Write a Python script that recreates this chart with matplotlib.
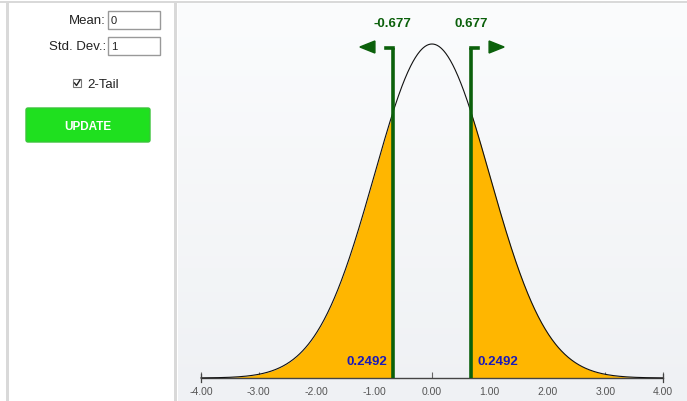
import numpy as np
import matplotlib
matplotlib.use("Agg")
import matplotlib.pyplot as plt
from matplotlib.patches import Rectangle, FancyBboxPatch, Polygon
from matplotlib.colors import LinearSegmentedColormap

plt.rcParams['font.family'] = ['Liberation Sans', 'DejaVu Sans']

# distribution settings and results
mean = 0.0
std_dev = 1.0
crit_values = [-0.677, 0.677]
tail_areas = [0.2492, 0.2492]
tick_values = [-4, -3, -2, -1, 0, 1, 2, 3, 4]
tick_labels = ["-4.00", "-3.00", "-2.00", "-1.00", "0.00", "1.00", "2.00", "3.00", "4.00"]

W, H = 687, 402
fig = plt.figure(figsize=(W / 100, H / 100), dpi=100)
fig.patch.set_facecolor('white')

# ---- control panel drawn in pixel coordinates ----
ui = fig.add_axes([0, 0, 1, 1])
ui.set_xlim(0, W)
ui.set_ylim(H, 0)
ui.axis('off')

border = '#d9d9d9'
ui.add_patch(Rectangle((0, 2), W, 2, color=border, lw=0))
ui.add_patch(Rectangle((6, 2), 2.5, H, color=border, lw=0))
ui.add_patch(Rectangle((174, 2), 2.5, H, color=border, lw=0))

txt = dict(fontsize=9.5, color='#222222', va='center')
ui.text(106, 21, "Mean:", ha='right', **txt)
ui.add_patch(Rectangle((108, 12), 52, 18, fc='white', ec='#999999', lw=1))
ui.text(111, 21.5, f"{mean:g}", ha='left', fontsize=8, color='#222222', va='center')
ui.text(106, 47, "Std. Dev.:", ha='right', **txt)
ui.add_patch(Rectangle((108, 38), 52, 18, fc='white', ec='#999999', lw=1))
ui.text(111, 47.5, f"{std_dev:g}", ha='left', fontsize=8, color='#222222', va='center')

ui.add_patch(Rectangle((73, 80), 8, 8, fc='white', ec='#777777', lw=0.8))
ui.plot([74.5, 76.5, 80], [84, 86.5, 81], color='#222222', lw=1)
ui.text(87, 84.5, "2-Tail", ha='left', **txt)

ui.add_patch(FancyBboxPatch((26, 109), 124, 34, boxstyle="round,pad=0,rounding_size=2",
                            fc='#1fe01f', ec='#3ac43a', lw=1))
ui.text(88, 126.5, "UPDATE", ha='center', va='center', fontsize=8.5,
        color='white', fontweight='bold')

# ---- distribution plot ----
x0, x1 = 178, W
ax = fig.add_axes([x0 / W, 0, (x1 - x0) / W, (H - 4) / H])
px_per_x = 462 / 8.0
ax.set_xlim(-4 - (201 - x0) / px_per_x, 4 + (x1 - 663) / px_per_x)
peak = 1 / (std_dev * np.sqrt(2 * np.pi))
px_per_y = (379 - 45) / peak
ax.set_ylim(-(H - 379) / px_per_y, peak + (45 - 4) / px_per_y)

# soft vertical gradient behind the plot (light at the top, greyer below)
grad = np.linspace(0, 1, 256).reshape(-1, 1)
cmap = LinearSegmentedColormap.from_list('bg', ['#fbfcfd', '#eff1f4'])
ax.imshow(grad, aspect='auto', cmap=cmap, origin='upper', extent=[0, 1, 0, 1],
          transform=ax.transAxes, zorder=0)

xs = np.linspace(-4, 4, 801)
pdf = np.exp(-0.5 * ((xs - mean) / std_dev) ** 2) / (std_dev * np.sqrt(2 * np.pi))

fill_color = '#ffb600'
left = xs <= crit_values[0]
right = xs >= crit_values[1]
ax.fill_between(xs, 0, pdf, where=left, color=fill_color, lw=0, zorder=2)
ax.fill_between(xs, 0, pdf, where=right, color=fill_color, lw=0, zorder=2)
ax.plot(xs, pdf, color='#111111', lw=0.8, zorder=3)

# axis line and ticks
ax.spines[['top', 'right', 'left']].set_visible(False)
ax.spines['bottom'].set_position(('data', 0))
ax.spines['bottom'].set_bounds(-4, 4)
ax.spines['bottom'].set_color('#444444')
ax.spines['bottom'].set_linewidth(1)
ax.set_yticks([])
ax.set_xticks(tick_values)
ax.set_xticklabels(tick_labels)
ax.tick_params(axis='x', direction='in', length=4, width=0.8, color='#666666',
               labelsize=7.5, labelcolor='#555555', pad=6)
for e in (-4, 4):
    ax.plot([e, e], [-4 / px_per_y, 4 / px_per_y], color='#444444', lw=0.9, zorder=4)

# critical value markers
green = '#0b600b'
top_y = (379 - 49) / px_per_y
hook = 7 / px_per_x
for i, c in enumerate(crit_values):
    ax.plot([c, c], [0, top_y], color=green, lw=2.6, zorder=5, solid_capstyle='butt')
    side = -1 if c < mean else 1
    ax.plot([c, c + side * hook], [top_y, top_y], color=green, lw=2.6, zorder=5,
            solid_capstyle='projecting')
    # direction arrow
    tip = c + side * (33 / px_per_x)
    base = c + side * (18 / px_per_x)
    hy = 6 / px_per_y
    ay = (379 - 48) / px_per_y
    ax.add_patch(Polygon([[tip, ay], [base, ay + hy], [base, ay - hy]],
                         closed=True, color=green, zorder=5))
    ax.text(c, (379 - 24) / px_per_y, f"{c:.3f}", ha='center', va='center',
            fontsize=9.5, fontweight='bold', color=green)
    # tail area labels
    label_y = 17 / px_per_y
    if side < 0:
        ax.text(c - 6 / px_per_x, label_y, f"{tail_areas[i]:.4f}",
                ha='right', va='center', fontsize=9.5, fontweight='bold',
                color='#1a1ab8', zorder=6)
    else:
        ax.text(c + 6 / px_per_x, label_y, f"{tail_areas[i]:.4f}",
                ha='left', va='center', fontsize=9.5, fontweight='bold',
                color='#1a1ab8', zorder=6)

fig.savefig('out.png', dpi=100, facecolor='white')
